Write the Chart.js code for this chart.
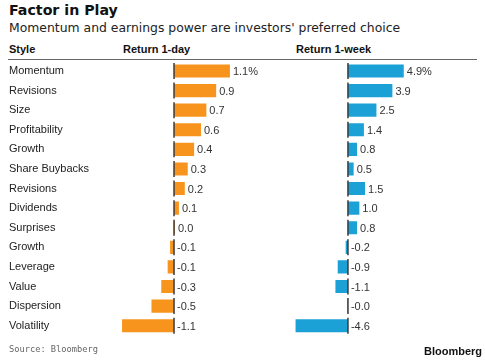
<!DOCTYPE html>
<html>
<head>
<meta charset="utf-8">
<script src="https://cdn.jsdelivr.net/npm/chart.js@4.4.1/dist/chart.umd.min.js"></script>
<style>
  body { margin: 0; background: #fff; font-family: Arial, "Liberation Sans", sans-serif; }
  #wrap { position: relative; width: 485px; height: 360px; overflow: hidden; }
  .t { position: absolute; white-space: nowrap; color: #111; }
  canvas { position: absolute; top: 0; }
</style>
</head>
<body>
<div id="wrap">
  <div class="t" style="left:9px;top:2px;font-size:14.2px;font-weight:bold;line-height:17px;font-family:'DejaVu Sans',sans-serif;">Factor in Play</div>
  <div class="t" style="left:9px;top:20px;font-size:12.4px;line-height:15px;color:#222;font-family:'DejaVu Sans',sans-serif;">Momentum and earnings power are investors' preferred choice</div>
  <div class="t" style="left:9px;top:43px;font-size:11px;font-weight:bold;line-height:13px;">Style</div>
  <div class="t" style="left:123px;top:43px;font-size:11px;font-weight:bold;line-height:13px;">Return 1-day</div>
  <div class="t" style="left:296px;top:43px;font-size:11px;font-weight:bold;line-height:13px;">Return 1-week</div>
  <div style="position:absolute;left:8px;top:59px;width:469px;height:1px;background:#666;"></div>
  <canvas id="day" width="265" height="360" style="left:0"></canvas>
  <canvas id="week" width="220" height="360" style="left:265px"></canvas>
  <div class="t" style="left:9px;top:344px;font-size:8.7px;line-height:11px;font-family:'DejaVu Sans Mono','Liberation Mono',monospace;color:#666;">Source: Bloomberg</div>
  <div class="t" style="left:424px;top:345px;font-size:11px;font-weight:bold;color:#111;">Bloomberg</div>
</div>
<script>
const styles = ['Momentum', 'Revisions', 'Size', 'Profitability', 'Growth', 'Share Buybacks', 'Revisions',
  'Dividends', 'Surprises', 'Growth', 'Leverage', 'Value', 'Dispersion', 'Volatility'];
const day1 = [1.14, 0.86, 0.66, 0.55, 0.41, 0.28, 0.22, 0.1, 0.02, -0.08, -0.13, -0.26, -0.46, -1.06];
const week1 = [4.9, 3.9, 2.5, 1.4, 0.8, 0.5, 1.5, 1.0, 0.8, -0.2, -0.9, -1.1, -0.04, -4.6];

const orange = '#f7941d';
const blue = '#1ba1d6';

// zero line per row + value labels
const marks = {
  id: 'marks',
  afterDatasetsDraw(chart) {
    const ctx = chart.ctx;
    const meta = chart.getDatasetMeta(0);
    const x0 = chart.scales.x.getPixelForValue(0);
    const vals = chart.data.datasets[0].data;
    ctx.save();
    meta.data.forEach((bar, i) => {
      ctx.strokeStyle = '#3a3a3a';
      ctx.lineWidth = 1.5;
      ctx.beginPath();
      ctx.moveTo(x0, bar.y - 8);
      ctx.lineTo(x0, bar.y + 8);
      ctx.stroke();
      const v = vals[i];
      let txt = v.toFixed(1);
      if (i === 0) txt += '%';
      const x = v > 0 ? bar.x + 3 : x0 + 3;
      ctx.fillStyle = '#333';
      ctx.font = '11px Arial, "Liberation Sans", sans-serif';
      ctx.textAlign = 'left';
      ctx.textBaseline = 'middle';
      ctx.fillText(txt, x, bar.y + 1);
    });
    ctx.restore();
  }
};

function makeChart(id, vals, color, min, max, pad, labelWidth) {
  return new Chart(document.getElementById(id), {
    type: 'bar',
    data: {
      labels: styles,
      datasets: [{ data: vals, backgroundColor: color, barPercentage: 1, categoryPercentage: 0.67 }]
    },
    options: {
      indexAxis: 'y',
      responsive: false,
      animation: false,
      devicePixelRatio: 1,
      layout: { padding: pad },
      plugins: { legend: { display: false }, tooltip: { enabled: false } },
      scales: {
        x: { display: false, min: min, max: max },
        y: {
          display: labelWidth > 0,
          grid: { display: false, drawTicks: false },
          border: { display: false },
          ticks: {
            crossAlign: 'far',
            padding: 0,
            color: '#222',
            font: { size: 11, family: 'Arial, "Liberation Sans", sans-serif' }
          },
          afterFit: s => { s.width = labelWidth; }
        }
      }
    },
    plugins: [marks]
  });
}

makeChart('day', day1, orange, -1.25, 1.55, { left: 9, right: 15, top: 61.2, bottom: 24.5 }, 103.75);
makeChart('week', week1, blue, -5, 6.5, { left: 26, right: 63, top: 61.2, bottom: 24.5 }, 0);
</script>
</body>
</html>
